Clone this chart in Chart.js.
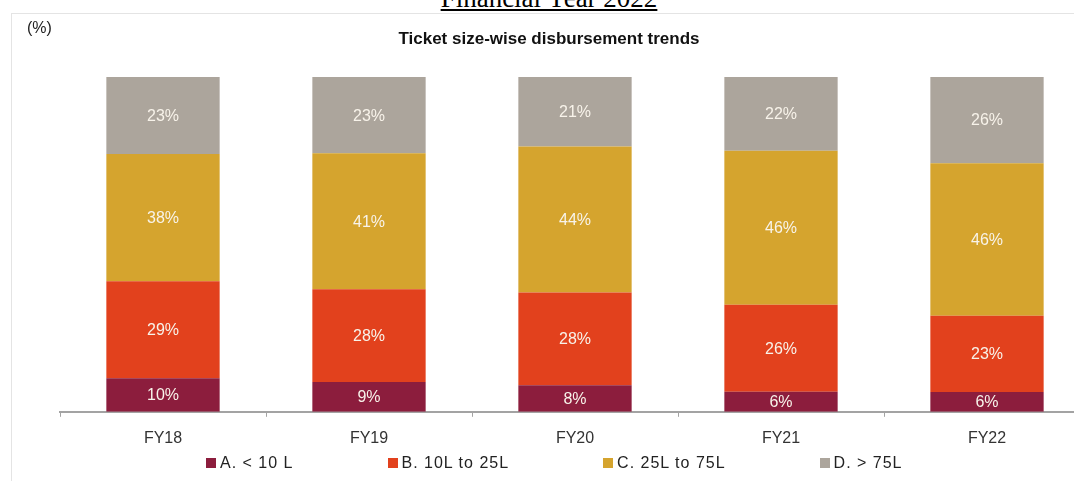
<!DOCTYPE html>
<html>
<head>
<meta charset="utf-8">
<script src="https://cdn.jsdelivr.net/npm/chart.js@4"></script>
<style>
  body { margin: 0; width: 1074px; height: 481px; overflow: hidden; background: #fff; position: relative; font-family: "Liberation Sans", Arial, sans-serif; }
  #frame { position: absolute; left: 11px; top: 13px; width: 1070px; height: 480px; border-top: 1px solid #e4e4e4; border-left: 1px solid #e4e4e4; }
  #fy { position: absolute; left: 0; width: 1098px; top: -14px; text-align: center; font-family: "Liberation Serif", "Times New Roman", serif; font-size: 27px; line-height: 24px; color: #000; }
  #fy span { text-decoration: underline; text-decoration-thickness: 2px; text-underline-offset: 2px; }
  #unit { position: absolute; left: 27px; top: 19px; font-size: 16px; color: #222; }
  #title { position: absolute; left: 0; width: 1098px; top: 29px; text-align: center; font-size: 17px; font-weight: bold; color: #111; }
  #box { position: absolute; left: 0; top: 0; width: 1090px; height: 481px; }
  #legend { position: absolute; left: 206px; top: 454px; display: flex; gap: 94px; font-size: 16px; letter-spacing: 1px; color: #222; }
  #legend div { display: flex; align-items: center; white-space: nowrap; }
  #legend i { display: inline-block; width: 10px; height: 10px; margin-right: 4px; }
</style>
</head>
<body>
<div id="frame"></div>
<div id="fy"><span>Financial Year 2022</span></div>
<div id="box"><canvas id="chart"></canvas></div>
<div id="unit">(%)</div>
<div id="title">Ticket size-wise disbursement trends</div>
<div id="legend"></div>
<script>
// data (printed shares, %)
const categories = ['FY18', 'FY19', 'FY20', 'FY21', 'FY22'];
const seriesNames = ['A. < 10 L', 'B. 10L to 25L', 'C. 25L to 75L', 'D. > 75L'];
const below10L = [10, 9, 8, 6, 6];
const from10To25L = [29, 28, 28, 26, 23];
const from25To75L = [38, 41, 44, 46, 46];
const above75L = [23, 23, 21, 22, 26];
const colors = ['#8c1d3d', '#e2411d', '#d5a42e', '#aca59c'];

const series = [below10L, from10To25L, from25To75L, above75L];
// printed shares round to 100-101, bars all reach the top, so scale each column to 100
const totals = categories.map((c, i) => series.reduce((s, arr) => s + arr[i], 0));

const segLabels = {
    id: 'segLabels',
    afterDatasetsDraw(chart) {
        const ctx = chart.ctx;
        ctx.save();
        ctx.font = '16px "Liberation Sans", Arial, sans-serif';
        ctx.fillStyle = '#f8f3ea';
        ctx.textAlign = 'center';
        ctx.textBaseline = 'middle';
        chart.data.datasets.forEach((ds, d) => {
            chart.getDatasetMeta(d).data.forEach((bar, i) => {
                ctx.fillText(series[d][i] + '%', bar.x, (bar.y + bar.base) / 2 + 1);
            });
        });
        ctx.restore();
    }
};

new Chart(document.getElementById('chart'), {
    type: 'bar',
    data: {
        labels: categories,
        datasets: series.map((arr, d) => ({
            label: seriesNames[d],
            data: arr.map((v, i) => v / totals[i] * 100),
            backgroundColor: colors[d],
            categoryPercentage: 1,
            barPercentage: 0.55
        }))
    },
    options: {
        responsive: true,
        maintainAspectRatio: false,
        animation: false,
        layout: { padding: { left: 60, right: 0, top: 77, bottom: 21 } },
        plugins: {
            legend: { display: false },
            tooltip: { enabled: false }
        },
        scales: {
            x: {
                stacked: true,
                border: { display: true, color: '#a3a3a3', width: 2 },
                grid: { display: true, drawOnChartArea: false, drawTicks: true, tickLength: 5, color: '#a3a3a3', offset: true },
                ticks: { color: '#333', padding: 12, font: { family: '"Liberation Sans", Arial, sans-serif', size: 16 } }
            },
            y: { stacked: true, display: false, min: 0, max: 100 }
        }
    },
    plugins: [segLabels]
});

// legend below the axis
const legend = document.getElementById('legend');
seriesNames.forEach((name, d) => {
    const item = document.createElement('div');
    item.innerHTML = `<i style="background:${colors[d]}"></i>${name}`;
    legend.appendChild(item);
});
</script>
</body>
</html>
